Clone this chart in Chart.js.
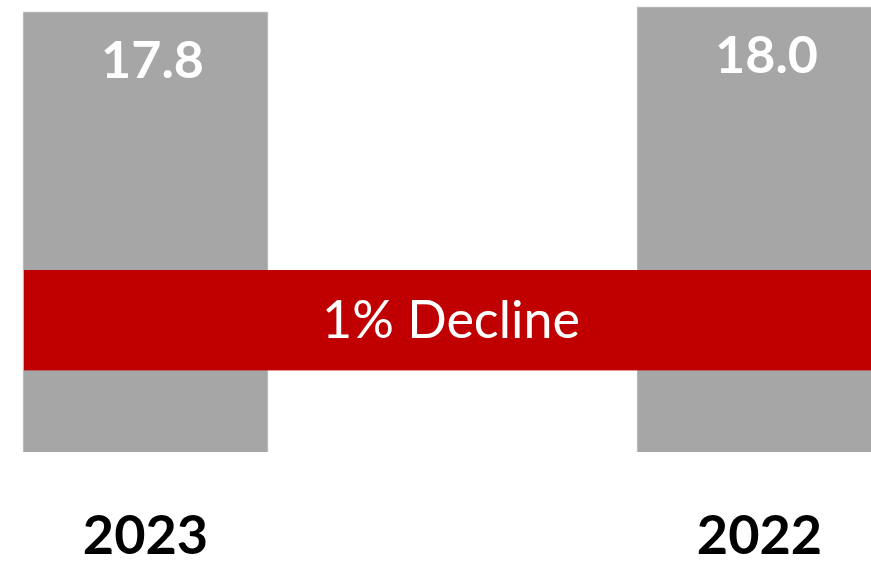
<!DOCTYPE html>
<html>
<head>
<meta charset="utf-8">
<script src="https://cdn.jsdelivr.net/npm/chart.js@4.4.0/dist/chart.umd.min.js"></script>
<style>
  html, body { margin: 0; padding: 0; background: #ffffff; }
  #wrap { width: 871px; height: 565px; position: relative; }
</style>
</head>
<body>
<div id="wrap"><canvas id="c" width="871" height="565"></canvas></div>
<script>
const years = ["2023", "2022"];
const positions = [0, 1];
const values = [17.8, 18.0];
const bandText = "1% Decline";
const bandRange = [3.3, 7.36];

const barLabels = {
  id: 'barLabels',
  afterDatasetsDraw(chart) {
    const ctx = chart.ctx;
    const meta = chart.getDatasetMeta(0);
    ctx.save();
    ctx.fillStyle = '#ffffff';
    ctx.font = 'bold 52px Lato';
    ctx.textAlign = 'center';
    ctx.textBaseline = 'middle';
    meta.data.forEach((bar, i) => {
      ctx.fillText(values[i].toFixed(1), bar.x + 7, bar.y + 49);
    });
    ctx.restore();
  }
};

const band = {
  id: 'band',
  afterDatasetsDraw(chart) {
    const ctx = chart.ctx;
    const ys = chart.scales.y;
    const meta = chart.getDatasetMeta(0);
    const left = meta.data[0].x - meta.data[0].width / 2 + 1;
    const right = chart.chartArea.right;
    const top = ys.getPixelForValue(bandRange[1]);
    const bottom = ys.getPixelForValue(bandRange[0]);
    ctx.save();
    ctx.fillStyle = '#c00000';
    ctx.fillRect(left, top, right - left, bottom - top);
    ctx.fillStyle = '#ffffff';
    ctx.font = '52px Lato';
    ctx.textAlign = 'center';
    ctx.textBaseline = 'middle';
    ctx.fillText(bandText, 451, (top + bottom) / 2 + 1);
    ctx.restore();
  }
};

new Chart(document.getElementById('c'), {
  type: 'bar',
  data: {
    datasets: [{
      data: positions.map((p, i) => ({ x: p, y: values[i] })),
      backgroundColor: '#a6a6a6',
      borderColor: '#c4c4c4',
      borderWidth: 1,
      barThickness: 245
    }]
  },
  options: {
    responsive: false,
    animation: false,
    layout: { padding: 0 },
    plugins: { legend: { display: false }, tooltip: { enabled: false } },
    scales: {
      x: {
        type: 'linear',
        offset: false,
        min: -0.237,
        max: 1.1816,
        grid: { display: false, offset: false },
        border: { display: false },
        afterBuildTicks(scale) { scale.ticks = positions.map(v => ({ value: v })); },
        afterFit(scale) { scale.height = 113; },
        ticks: {
          autoSkip: false,
          maxRotation: 0,
          padding: 44,
          color: '#000000',
          font: { family: 'Lato', size: 54, weight: 'bold' },
          callback: (v) => years[positions.indexOf(v)] ?? ''
        }
      },
      y: {
        display: false,
        min: 0,
        max: 18.28
      }
    }
  },
  plugins: [band, barLabels]
});
</script>
</body>
</html>
